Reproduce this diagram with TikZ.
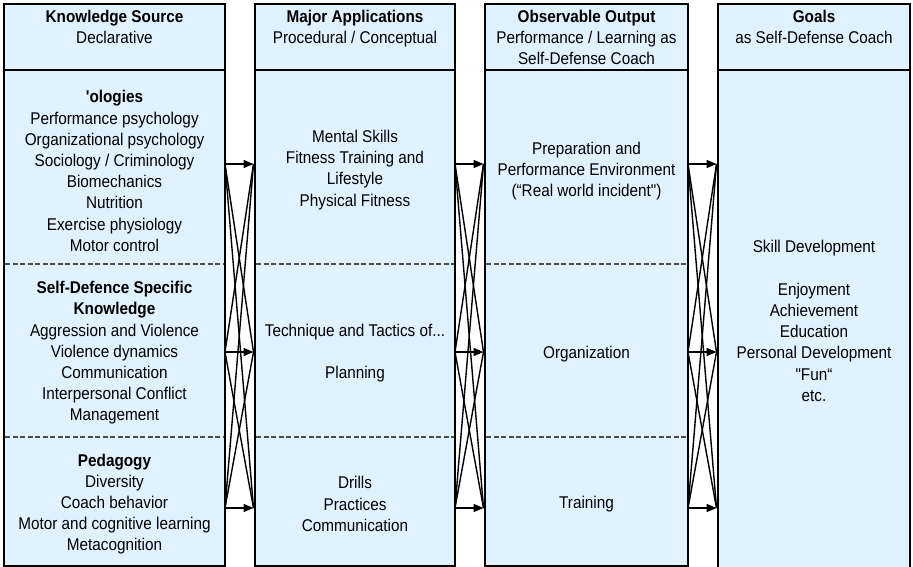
\documentclass[tikz,border=0pt]{standalone}
\usepackage{fontspec}
\newfontfamily\boxfont{Liberation Sans}[FakeStretch=0.9]
\usetikzlibrary{arrows.meta,positioning}
\definecolor{boxblue}{RGB}{224,242,255}
\tikzset{
	colbox/.style={draw=black,line width=1.8pt,fill=boxblue},
	sepline/.style={draw=black!70,line width=1.1pt,dash pattern=on 5pt off 2.5pt},
	txt/.style={font=\boxfont\fontsize{17}{21.2}\selectfont,align=center,inner sep=0pt},
	link/.style={line width=1.4pt},
	flow/.style={line width=1.5pt,-{Triangle[length=10pt,width=8pt]}}
}
\begin{document}
\begin{tikzpicture}[x=1pt,y=-1pt]
			\clip (0,0) rectangle (913,567);
			\foreach \l/\r/\b in {4/225/566,255/455/566,485/688/566,718/910/570}{
				\draw [colbox] (\l,4) rectangle (\r,70);
				\draw [colbox] (\l,70) rectangle (\r,\b);
			}
			\foreach \l/\r in {4/225,255/455,485/688}{
				\draw [sepline] (\l+1,264) -- (\r-1,264);
				\draw [sepline] (\l+1,437) -- (\r-1,437);
			}
			\node [txt,anchor=north] (head1) at (114.5,10) {{\bfseries Knowledge Source}\\Declarative};
			\node [txt,anchor=north] (head2) at (355,10) {{\bfseries Major Applications}\\Procedural / Conceptual};
			\node [txt,anchor=north] (head3) at (586.5,10) {{\bfseries Observable Output}\\Performance / Learning as\\Self-Defense Coach};
			\node [txt,anchor=north] (head4) at (814,10) {{\bfseries Goals}\\as Self-Defense Coach};
			\node [txt] (know1) at (114.5,171) {{\bfseries 'ologies}\\Performance psychology\\Organizational psychology\\Sociology / Criminology\\Biomechanics\\Nutrition\\Exercise physiology\\Motor control};
			\node [txt] (know2) at (114.5,353) {{\bfseries Self-Defence Specific}\\{\bfseries Knowledge}\\Aggression and Violence\\Violence dynamics\\Communication\\Interpersonal Conflict\\Management};
			\node [txt] (know3) at (114.5,504) {{\bfseries Pedagogy}\\Diversity\\Coach behavior\\Motor and cognitive learning\\Metacognition};
			\node [txt] (appl1) at (355,170) {Mental Skills\\Fitness Training and\\Lifestyle\\Physical Fitness};
			\node [txt] (appl2) at (355,353) {Technique and Tactics of...\\[21.2pt]Planning};
			\node [txt] (appl3) at (355,504) {Drills\\Practices\\Communication};
			\node [txt] (outp1) at (586.5,171) {Preparation and\\Performance Environment\\(“Real world incident")};
			\node [txt] (outp2) at (586.5,354) {Organization};
			\node [txt] (outp3) at (586.5,504) {Training};
			\node [txt] (goal) at (814,321) {Skill Development\\[21.2pt]Enjoyment\\Achievement\\Education\\Personal Development\\"Fun“\\etc.};
			\foreach \g/\a/\b in {1/225/253.5,2/455/483.5,3/688/716.5}{
				\foreach \k/\y in {1/164,2/352,3/508}{
					\coordinate (out\g\k) at (\a,\y);
					\coordinate (in\g\k) at (\b,\y);
				}
			}
			\foreach \g in {1,2,3}{
				\foreach \k in {1,2,3}{
					\draw [flow] (out\g\k) -- (in\g\k);
					\foreach \m in {1,2,3}{
						\ifnum\k=\m\else\draw [link] (out\g\k) -- (in\g\m);\fi
					}
				}
			}
\end{tikzpicture}
\end{document}
